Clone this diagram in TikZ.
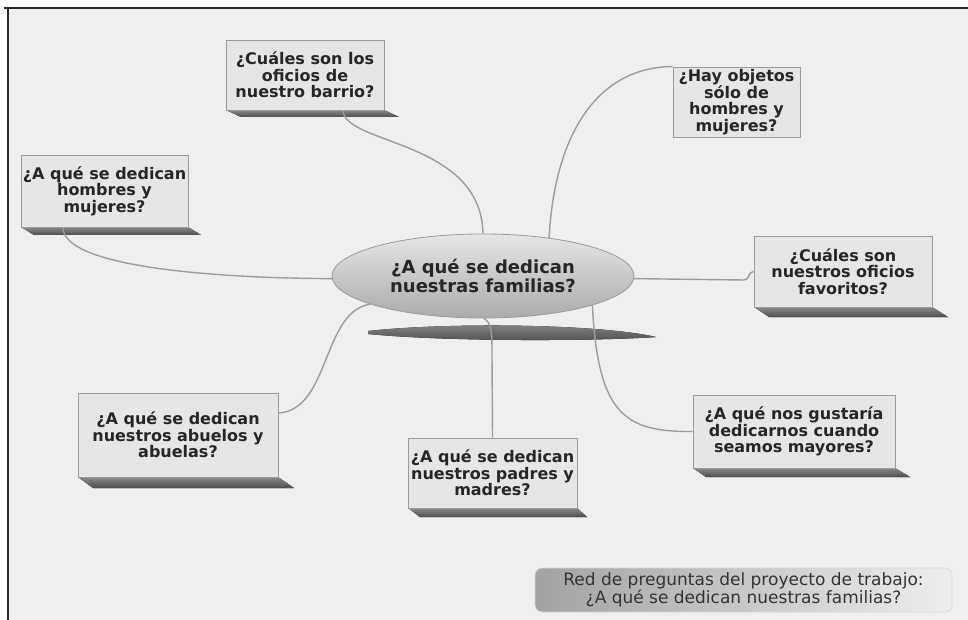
\documentclass[tikz,border=0pt]{standalone}
\usepackage{fontspec}
\setmainfont{DejaVu Sans}
\usetikzlibrary{shapes.geometric}
\definecolor{bgc}{HTML}{EFEFEF}
\definecolor{framec}{HTML}{2A2A2A}
\definecolor{boxfill}{HTML}{E6E6E6}
\definecolor{boxline}{HTML}{9A9A9A}
\definecolor{linkc}{HTML}{9C9C9C}
\definecolor{txtc}{HTML}{262626}
\tikzset{
  qbox/.style={draw=boxline, line width=0.9pt, fill=boxfill, rectangle, inner sep=0pt,
    align=center, text=txtc, font=\bfseries\fontsize{16}{16.5}\selectfont},
  centre/.style={ellipse, draw=boxline, line width=0.8pt, top color=HTML-E6, bottom color=HTML-AA,
    inner sep=0pt, minimum width=302pt, minimum height=84pt, align=center, text=txtc,
    font=\bfseries\fontsize{18}{19.5}\selectfont},
  link/.style={draw=linkc, line width=1.4pt},
  boxshadow/.style={top color=HTML-88, bottom color=HTML-4E},
  caption/.style={rectangle, rounded corners=7pt, draw=HTML-D8, line width=0.8pt,
    left color=HTML-A2, right color=HTML-EE, minimum width=417pt, minimum height=44pt,
    inner sep=0pt, align=center, text=HTML-333, font=\fontsize{17}{18}\selectfont}
}
\colorlet{HTML-E6}{boxfill}
\definecolor{HTML-E6}{HTML}{E6E6E6}
\definecolor{HTML-AA}{HTML}{ABABAB}
\definecolor{HTML-88}{HTML}{8A8A8A}
\definecolor{HTML-4E}{HTML}{4E4E4E}
\definecolor{HTML-D8}{HTML}{D8D8D8}
\definecolor{HTML-A2}{HTML}{A2A2A2}
\definecolor{HTML-EE}{HTML}{EEEEEE}
\definecolor{HTML-333}{HTML}{333333}
\begin{document}
\begin{tikzpicture}[x=1pt,y=-1pt]
\useasboundingbox (0,0) rectangle (968,620);
\fill[white] (0,0) rectangle (968,620);
\fill[bgc] (8,8) rectangle (968,620);
\draw[framec, line width=2pt] (4,8) -- (968,8);
\draw[framec, line width=2pt] (8,8) -- (8,620);

% shadows first (drawn beneath nodes)
\fill[boxshadow] (226,110) -- (384,110) -- (399,117) -- (241,117) -- cycle;
\fill[boxshadow] (21,227) -- (188,227) -- (201,235) -- (34,235) -- cycle;
\fill[boxshadow] (754,307) -- (932,307) -- (948,317) -- (769,317) -- cycle;
\fill[boxshadow] (78,477) -- (278,477) -- (294,488) -- (93,488) -- cycle;
\fill[boxshadow] (408,508) -- (577,508) -- (587,517) -- (420,517) -- cycle;
\fill[boxshadow] (693,468) -- (895,468) -- (910,477) -- (706,477) -- cycle;
\fill[boxshadow] (368,331) .. controls (450,322) and (600,324) .. (656,337)
   .. controls (600,341) and (450,342) .. (368,334) -- cycle;

% nodes
\node[centre] (e) at (483,276) {¿A qué se dedican\\nuestras familias?};
\node[qbox, minimum width=158pt, minimum height=70pt] (b1) at (305,75)
   {¿Cuáles son los\\oficios de\\nuestro barrio?};
\node[qbox, minimum width=127pt, minimum height=70pt] (b2) at (736.5,102)
   {¿Hay objetos\\sólo de\\hombres y\\mujeres?};
\node[qbox, minimum width=167pt, minimum height=72pt] (b3) at (104.5,191)
   {¿A qué se dedican\\hombres y\\mujeres?};
\node[qbox, minimum width=178pt, minimum height=71pt] (b4) at (843,271.5)
   {¿Cuáles son\\nuestros oficios\\favoritos?};
\node[qbox, minimum width=200pt, minimum height=84pt] (b6) at (178,435)
   {¿A qué se dedican\\nuestros abuelos y\\abuelas?};
\node[qbox, minimum width=169pt, minimum height=70pt] (b7) at (492.5,473)
   {¿A qué se dedican\\nuestros padres y\\madres?};
\node[qbox, minimum width=202pt, minimum height=73pt] (b8) at (794,431.5)
   {¿A qué nos gustaría\\dedicarnos cuando\\seamos mayores?};
\node[caption] (cap) at (743.5,590)
   {Red de preguntas del proyecto de trabajo:\\¿A qué se dedican nuestras familias?};

% connectors
\draw[link] ([xshift=38pt]b1.south) .. controls (345,145) and (481,140) .. (e.north);
\draw[link] (e.30) .. controls (555,130) and (600,67) .. (b2.north west);
\draw[link] ([xshift=-41.5pt]b3.south) .. controls (63,265) and (200,278) .. (e.181.5);
\draw[link] (e.-1.5) -- (744,280) .. controls (750,280) and (748,271.5) .. (b4.west);
\draw[link] (e.194) .. controls (322,312) and (330,410) .. ([yshift=22pt]b6.east);
\draw[link] (e.-89) .. controls (492,322) and (492,335) .. (492,355) -- (b7.north);
\draw[link] (e.-15) .. controls (598,415) and (625,432) .. (b8.west);
\end{tikzpicture}
\end{document}
